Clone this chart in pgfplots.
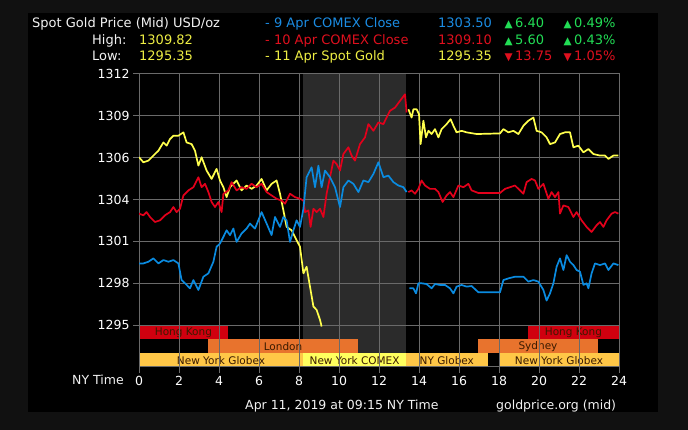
\documentclass[border=0pt]{standalone}
\usepackage{pgfplots}
\pgfplotsset{compat=1.18}
\usepackage{fontspec}
\setmainfont{DejaVu Sans}
\definecolor{framec}{HTML}{111111}
\definecolor{gridc}{HTML}{6A6A6A}
\definecolor{shadec}{HTML}{2B2B2B}
\definecolor{ylw}{HTML}{FFFF4D}
\definecolor{rd}{HTML}{E3001B}
\definecolor{bl}{HTML}{0A8BE0}
\definecolor{hk}{HTML}{D0000F}
\definecolor{ldn}{HTML}{E8732D}
\definecolor{nyg}{HTML}{FFC747}
\definecolor{cmx}{HTML}{FFFF5E}
\definecolor{bandtxt}{HTML}{3A1A00}
\definecolor{grn}{HTML}{22DD55}
\definecolor{htxt}{HTML}{F2F2F2}
\definecolor{hylw}{HTML}{EEEE44}
\definecolor{hred}{HTML}{E0101E}
\definecolor{hblue}{HTML}{1B8CE3}
\newcommand{\hf}{\fontsize{13}{15}\selectfont}
\newcommand{\tf}{\fontsize{10.5}{11}\selectfont}
\begin{document}
\begin{tikzpicture}
\begin{scope}[x=1pt,y=1pt]
\fill[framec] (0,0) rectangle (688,430);
\fill[black] (28,18) rectangle (658,417);
% header
\begin{scope}[every node/.style={anchor=base west,inner sep=0pt,font=\hf}]
\node[text=htxt] at (32,402.7) {Spot Gold Price (Mid) USD/oz};
\node[text=htxt] at (92,385.7) {High:};
\node[text=htxt] at (92,369) {Low:};
\node[text=hylw] at (139,385.7) {1309.82};
\node[text=hylw] at (139,369) {1295.35};
\node[text=hblue] at (265,402.7) {- 9 Apr COMEX Close};
\node[text=hred] at (265,385.7) {- 10 Apr COMEX Close};
\node[text=hylw] at (265,369) {- 11 Apr Spot Gold};
\node[text=hblue] at (438,402.7) {1303.50};
\node[text=hred] at (438,385.7) {1309.10};
\node[text=hylw] at (438,369) {1295.35};
\node[text=grn,font=\tf] at (504.5,402.7) {▲};
\node[text=grn,font=\tf] at (504.5,385.7) {▲};
\node[text=hred,font=\tf] at (504.5,369) {▼};
\node[text=grn] at (515,402.7) {6.40};
\node[text=grn] at (515,385.7) {5.60};
\node[text=hred] at (515,369) {13.75};
\node[text=grn,font=\tf] at (563.5,402.7) {▲};
\node[text=grn,font=\tf] at (563.5,385.7) {▲};
\node[text=hred,font=\tf] at (563.5,369) {▼};
\node[text=grn] at (574,402.7) {0.49\%};
\node[text=grn] at (574,385.7) {0.43\%};
\node[text=hred] at (574,369) {1.05\%};
\end{scope}
\begin{scope}[every node/.style={anchor=base west,inner sep=0pt,font=\fontsize{12.5}{14}\selectfont,text=htxt}]
\node at (72,45) {NY Time};
\node at (245,20) {Apr 11, 2019 at 09:15 NY Time};
\node at (496,20) {goldprice.org (mid)};
\end{scope}
\end{scope}
% axis 1: shaded region and session bands
\begin{axis}[at={(139pt,63pt)},anchor=south west,scale only axis,width=480pt,height=293pt,
  xmin=0,xmax=24,ymin=1292.61,ymax=1311.79,hide axis]
\fill[shadec] (axis cs:8.2,1292.61) rectangle (axis cs:13.35,1311.79);
\fill[hk] (axis cs:0,1294.43) rectangle (axis cs:4.45,1295.30);
\fill[hk] (axis cs:19.45,1294.43) rectangle (axis cs:24,1295.30);
\fill[ldn] (axis cs:3.45,1293.52) rectangle (axis cs:10.95,1294.43);
\fill[ldn] (axis cs:16.95,1293.52) rectangle (axis cs:22.95,1294.43);
\fill[nyg] (axis cs:0,1292.61) rectangle (axis cs:8.2,1293.52);
\fill[cmx] (axis cs:8.2,1292.61) rectangle (axis cs:13.35,1293.52);
\fill[nyg] (axis cs:13.35,1292.61) rectangle (axis cs:17.43,1293.52);
\fill[nyg] (axis cs:18,1292.61) rectangle (axis cs:24,1293.52);
\begin{scope}[every node/.style={text=bandtxt,font=\fontsize{10.5}{12}\selectfont,inner sep=0pt}]
\node at (axis cs:2.22,1294.87) {Hong Kong};
\node at (axis cs:21.72,1294.87) {Hong Kong};
\node at (axis cs:7.2,1293.97) {London};
\node at (axis cs:19.95,1293.97) {Sydney};
\node at (axis cs:4.1,1293.06) {New York Globex};
\node at (axis cs:10.78,1293.06) {New York COMEX};
\node at (axis cs:15.39,1293.06) {NY Globex};
\node at (axis cs:21,1293.06) {New York Globex};
\end{scope}
\end{axis}
% axis 2: grid, ticks and price lines
\begin{axis}[at={(139pt,63pt)},anchor=south west,scale only axis,width=480pt,height=293pt,
  xmin=0,xmax=24,ymin=1292.61,ymax=1311.79,
  xtick={0,2,4,6,8,10,12,14,16,18,20,22,24},
  xticklabels={0,2,4,6,8,10,12,14,16,18,20,22,24},
  ytick={1295.35,1298.09,1300.83,1303.57,1306.31,1309.05,1311.79},
  yticklabels={1295,1298,1301,1304,1306,1309,1312},
  grid=major, major grid style={gridc,line width=1pt},
  axis line style={gridc,line width=1pt},
  tick style={gridc,line width=1pt}, tick align=outside, major tick length=6pt,
  xtick pos=bottom, ytick pos=left,
  tick label style={text=white,font=\fontsize{12.5}{14}\selectfont},
  /pgf/number format/assume math mode=true,
  every axis plot/.append style={line width=1.7pt,line join=round}]
% 11 Apr spot gold
\addplot[ylw] coordinates {(0,1306.34) (0.22,1306.01) (0.47,1306.12) (0.72,1306.45) (0.97,1306.77) (1.22,1307.31) (1.38,1307.10) (1.55,1307.53) (1.72,1307.75) (1.97,1307.75) (2.22,1307.97) (2.38,1307.31) (2.63,1307.20) (2.80,1306.77) (2.97,1305.79) (3.13,1306.34) (3.38,1305.47) (3.63,1304.92) (3.88,1305.58) (4.05,1304.82) (4.22,1304.38) (4.38,1303.73) (4.55,1304.38) (4.88,1304.82) (5.13,1304.17) (5.38,1304.49) (5.63,1304.27) (5.88,1304.49) (6.13,1304.92) (6.38,1304.17) (6.63,1304.60) (6.88,1304.82) (7.05,1303.95) (7.22,1302.86) (7.38,1301.78) (7.63,1301.56) (7.88,1300.91) (8.05,1300.48) (8.22,1298.74) (8.38,1299.17) (8.55,1297.87) (8.72,1296.57) (8.88,1296.35) (9.05,1295.70) (9.13,1295.26)};
\addplot[ylw] coordinates {(13.47,1309.48) (13.63,1308.94) (13.72,1309.48) (13.88,1309.48) (14.00,1309.16) (14.08,1307.20) (14.22,1308.73) (14.35,1307.64) (14.47,1308.07) (14.63,1307.86) (14.80,1308.18) (14.97,1307.64) (15.13,1308.18) (15.38,1308.51) (15.58,1308.83) (15.72,1308.40) (15.88,1307.97) (16.13,1308.07) (16.38,1307.97) (16.88,1307.86) (18.05,1307.90) (18.22,1308.18) (18.47,1307.97) (18.72,1308.07) (18.97,1307.86) (19.22,1308.40) (19.47,1308.73) (19.72,1308.94) (19.88,1308.07) (20.13,1307.97) (20.38,1307.64) (20.55,1307.20) (20.80,1307.31) (21.05,1307.86) (21.30,1307.97) (21.55,1307.97) (21.72,1306.99) (21.97,1307.10) (22.22,1306.66) (22.47,1306.88) (22.72,1306.55) (23.05,1306.45) (23.30,1306.45) (23.47,1306.23) (23.72,1306.45) (23.97,1306.45)};
% 10 Apr COMEX close
\addplot[rd] coordinates {(0,1302.65) (0.22,1302.54) (0.38,1302.75) (0.55,1302.43) (0.80,1302.10) (1.05,1302.21) (1.30,1302.54) (1.55,1302.75) (1.72,1303.08) (1.88,1302.75) (2.05,1302.97) (2.22,1303.84) (2.47,1304.17) (2.72,1304.38) (2.97,1305.03) (3.13,1304.38) (3.30,1304.60) (3.47,1304.06) (3.63,1303.41) (3.80,1303.08) (3.97,1303.41) (4.13,1302.75) (4.22,1303.95) (4.47,1304.17) (4.63,1304.71) (4.88,1304.17) (5.13,1304.38) (5.38,1304.27) (5.63,1304.60) (5.88,1304.38) (6.13,1304.60) (6.38,1304.06) (6.63,1303.84) (6.88,1303.62) (7.13,1303.51) (7.30,1303.30) (7.55,1303.95) (7.80,1303.73) (8.05,1303.62) (8.22,1303.51) (8.30,1302.75) (8.47,1302.86) (8.58,1301.78) (8.72,1302.97) (8.88,1302.75) (9.05,1302.97) (9.22,1302.43) (9.38,1303.95) (9.55,1305.03) (9.72,1306.12) (9.88,1305.90) (10.05,1305.47) (10.22,1306.55) (10.47,1306.99) (10.63,1306.45) (10.80,1306.12) (11.05,1307.20) (11.30,1307.64) (11.47,1308.51) (11.72,1308.07) (11.97,1308.62) (12.22,1308.51) (12.38,1308.94) (12.55,1309.38) (12.80,1309.59) (13.05,1310.03) (13.30,1310.46) (13.38,1309.27)};
\addplot[rd] coordinates {(13.47,1304.06) (13.63,1304.17) (13.80,1303.95) (13.97,1304.27) (14.13,1304.82) (14.30,1304.49) (14.55,1304.27) (14.80,1304.27) (14.97,1304.06) (15.18,1303.41) (15.38,1303.84) (15.55,1304.06) (15.72,1303.73) (15.97,1304.49) (16.22,1304.38) (16.47,1304.60) (16.63,1304.17) (16.97,1304.00) (18.05,1304.00) (18.30,1304.27) (18.55,1304.38) (18.80,1304.49) (19.05,1304.17) (19.22,1303.95) (19.38,1304.71) (19.63,1304.92) (19.80,1304.82) (19.97,1304.27) (20.22,1304.60) (20.47,1303.62) (20.63,1304.06) (20.80,1303.73) (20.97,1304.06) (21.05,1302.65) (21.22,1303.19) (21.47,1303.08) (21.72,1302.43) (21.88,1302.75) (22.13,1302.21) (22.38,1301.78) (22.63,1301.45) (22.88,1301.89) (23.05,1302.10) (23.22,1301.78) (23.38,1302.21) (23.63,1302.65) (23.80,1302.75) (23.97,1302.65)};
% 9 Apr COMEX close
\addplot[bl] coordinates {(0,1299.39) (0.22,1299.39) (0.47,1299.50) (0.72,1299.72) (0.97,1299.39) (1.22,1299.61) (1.47,1299.50) (1.72,1299.61) (1.97,1299.39) (2.13,1298.30) (2.30,1298.09) (2.55,1297.76) (2.72,1298.30) (2.97,1297.65) (3.22,1298.52) (3.47,1298.74) (3.72,1299.50) (3.88,1300.48) (4.05,1300.69) (4.22,1301.13) (4.38,1301.56) (4.55,1301.24) (4.72,1301.67) (4.88,1300.80) (5.13,1301.35) (5.38,1301.67) (5.55,1302.00) (5.80,1301.67) (6.13,1302.75) (6.38,1302.00) (6.63,1301.24) (6.80,1302.43) (7.05,1301.78) (7.22,1302.43) (7.38,1302.21) (7.55,1300.80) (7.72,1301.56) (7.88,1302.21) (8.05,1301.78) (8.22,1302.97) (8.38,1305.03) (8.63,1305.68) (8.80,1304.38) (8.97,1305.79) (9.13,1304.38) (9.30,1305.47) (9.55,1305.03) (9.80,1304.38) (10.05,1303.08) (10.22,1304.38) (10.47,1304.82) (10.72,1304.60) (10.97,1304.06) (11.22,1304.82) (11.47,1304.71) (11.72,1305.25) (11.97,1306.01) (12.22,1305.03) (12.47,1305.14) (12.72,1304.71) (12.97,1304.49) (13.22,1304.38) (13.38,1304.06)};
\addplot[bl] coordinates {(13.52,1297.76) (13.72,1297.76) (13.85,1297.43) (13.97,1298.09) (14.13,1298.09) (14.38,1298.04) (14.63,1297.76) (14.80,1298.04) (15.05,1297.98) (15.30,1297.98) (15.55,1297.76) (15.72,1297.43) (15.88,1297.87) (16.13,1297.98) (16.38,1297.87) (16.63,1297.91) (16.97,1297.50) (18.05,1297.50) (18.22,1298.30) (18.47,1298.41) (18.80,1298.52) (19.22,1298.52) (19.47,1298.20) (19.72,1298.30) (19.97,1298.20) (20.22,1297.65) (20.38,1296.96) (20.55,1297.43) (20.72,1298.09) (20.88,1299.17) (21.05,1299.72) (21.22,1298.96) (21.38,1299.93) (21.55,1299.50) (21.72,1299.28) (21.88,1298.96) (22.05,1298.85) (22.22,1297.98) (22.38,1298.09) (22.47,1297.76) (22.63,1298.74) (22.80,1299.39) (23.05,1299.28) (23.30,1299.39) (23.47,1298.96) (23.72,1299.39) (23.97,1299.28)};
\end{axis}
\end{tikzpicture}
\end{document}
